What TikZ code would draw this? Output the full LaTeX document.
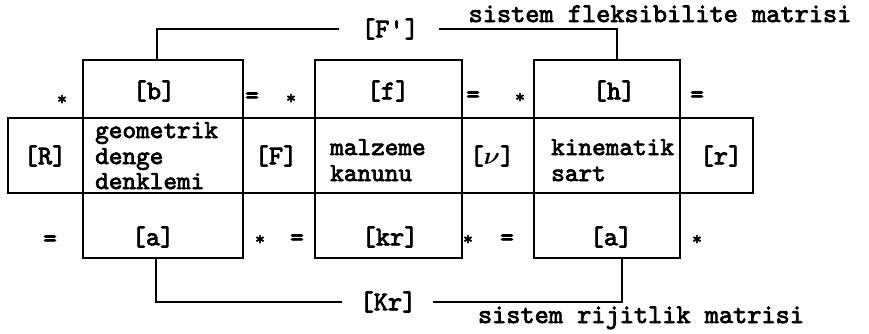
\documentclass[tikz,border=0pt]{standalone}
\usepackage{amsmath}
\usepackage{fontspec}
\newfontfamily\tw{lmmono10-regular.otf}[FakeBold=2.8]
\tikzset{
  box/.style={draw, line width=1.3pt, rectangle, inner sep=0pt, outer sep=0pt},
  topbox/.style={box, minimum height=58pt},
  midbox/.style={box, minimum height=75pt},
  botbox/.style={box, minimum height=65pt},
  lbl/.style={font={\tw\fontsize{27}{27}\selectfont}, inner sep=0pt},
  txt/.style={font={\tw\fontsize{26}{26}\selectfont}, inner sep=0pt, anchor=base west},
  op/.style={font={\tw\fontsize{26}{26}\selectfont}, inner sep=0pt},
  star/.style={font={\tw\fontsize{19}{19}\selectfont}, inner sep=0pt},
  captiontext/.style={font={\tw\fontsize{27}{27}\selectfont}, inner sep=0pt, anchor=base},
  wire/.style={line width=1.3pt}
}
\begin{document}
\begin{tikzpicture}[x=1pt,y=-1pt]
\useasboundingbox (0,0) rectangle (869,333);
% top row
\node[topbox, minimum width=160pt] (b) at (163,89) {};
\node[topbox, minimum width=147pt] (f) at (388.5,89) {};
\node[topbox, minimum width=146pt] (h) at (607,89) {};
\node[lbl] (bl) at (154,91) {[b]};
\node[lbl] (fl) at (388,91) {[f]};
\node[lbl] (hl) at (614,91) {[h]};
% middle row
\node[midbox, minimum width=75pt] (R) at (45.5,155.5) {};
\node[midbox, minimum width=160pt] (geo) at (163,155.5) {};
\node[midbox, minimum width=72pt] (F) at (279,155.5) {};
\node[midbox, minimum width=147pt] (mal) at (388.5,155.5) {};
\node[midbox, minimum width=72pt] (nu) at (498,155.5) {};
\node[midbox, minimum width=146pt] (kin) at (607,155.5) {};
\node[midbox, minimum width=73pt] (r) at (716.5,155.5) {};
\node[lbl] (Rl) at (45,156) {[R]};
\node[txt] (g1) at (95,138) {geometrik};
\node[txt] (g2) at (95,164) {denge};
\node[txt] (g3) at (95,189) {denklemi};
\node[lbl] (Fl) at (276,156) {[F]};
\node[txt] (m1) at (330,155) {malzeme};
\node[txt] (m2) at (330,181) {kanunu};
\node[lbl] (nul) at (492,156) {[$\boldsymbol{\nu}$]};
\node[txt] (k1) at (551,155) {kinematik};
\node[txt] (k2) at (551,181) {sart};
\node[lbl] (rl) at (721,156) {[r]};
% bottom row
\node[botbox, minimum width=160pt] (a1) at (163,225.5) {};
\node[botbox, minimum width=147pt] (kr) at (388.5,225.5) {};
\node[botbox, minimum width=146pt] (a2) at (607,225.5) {};
\node[lbl] (a1l) at (153,237) {[a]};
\node[lbl] (krl) at (390,237) {[kr]};
\node[lbl] (a2l) at (611,237) {[a]};
% operators top
\node[star] (o1) at (62,100) {*};
\node[op] (o2) at (252,98) {=};
\node[star] (o3) at (291,99) {*};
\node[op] (o4) at (473,97) {=};
\node[star] (o5) at (520,98) {*};
\node[op] (o6) at (697,97) {=};
% operators bottom
\node[op] (p1) at (50,241) {=};
\node[star] (p2) at (260,240) {*};
\node[op] (p3) at (297,240) {=};
\node[star] (p4) at (468,240) {*};
\node[op] (p5) at (507,240) {=};
\node[star] (p6) at (697,240) {*};
% connectors
\node[lbl] (Fp) at (390,29) {[F'\kern1pt]};
\node[lbl] (Kr) at (388,302) {[Kr]};
\draw[wire] ([xshift=-6pt]b.north) |- ([xshift=-22pt]Fp.west);
\draw[wire] ([xshift=20pt]Fp.east) -| ([xshift=10pt]h.north);
\draw[wire] ([xshift=-7pt]a1.south) |- ([xshift=-17pt]Kr.west);
\draw[wire] ([xshift=16pt]Kr.east) -| ([xshift=15pt]a2.south);
\node[captiontext] (sf) at (660,22) {sistem fleksibilite matrisi};
\node[captiontext] (sr) at (641,323) {sistem rijitlik matrisi};
\end{tikzpicture}
\end{document}
